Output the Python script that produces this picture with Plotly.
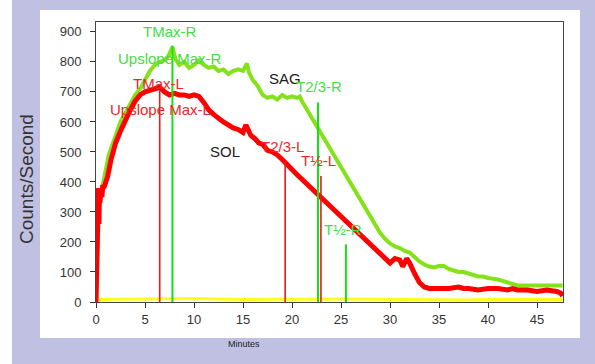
import plotly.graph_objects as go

# ---- data ----
right_t = [0, 0.1, 0.2, 0.3, 0.5, 0.7, 1.0, 1.3, 1.6, 2.0, 2.5, 3.0, 3.5, 4.0, 4.5, 5.0, 5.5,
           6.0, 6.5, 7.0, 7.4, 7.8, 8.1, 8.5, 9.0, 9.5, 10.0, 10.5, 11.0, 11.5, 12.0, 12.5,
           13.0, 13.5, 14.0, 14.5, 15.0, 15.4, 15.6, 16.0, 16.5, 17.0, 17.5, 18.0, 18.5,
           19.0, 19.5, 20.0, 20.5, 20.8, 21.0, 22.0, 23.0, 24.0, 25.0, 26.0, 27.0, 28.0,
           29.0, 29.5, 30.0, 30.5, 31.0, 31.5, 32.0, 32.5, 33.0, 33.5, 34.0, 34.5, 35.0,
           35.5, 36.0, 36.5, 37.0, 37.5, 38.0, 38.5, 39.0, 39.5, 40.0, 41.0, 42.0, 43.0,
           44.0, 45.0, 46.0, 47.0, 47.6]
right_v = [0, 150, 280, 330, 360, 400, 440, 490, 520, 560, 600, 630, 660, 690, 710, 740, 770,
           790, 800, 805, 820, 850, 810, 790, 800, 780, 790, 805, 790, 780, 785, 770,
           775, 760, 770, 775, 770, 795, 765, 740, 720, 690, 680, 685, 675,
           690, 680, 685, 680, 685, 670, 615, 560, 505, 450, 395, 340, 285,
           230, 210, 195, 185, 180, 170, 165, 150, 135, 125, 118, 115, 120,
           120, 110, 105, 100, 100, 95, 90, 85, 85, 80, 75, 65, 55,
           55, 55, 55, 55, 55]

left_t = [0, 0.05, 0.1, 0.15, 0.2, 0.25, 0.3, 0.35, 0.4, 0.5, 0.6, 0.7, 0.8, 1.0, 1.2, 1.5,
          1.8, 2.0, 2.5, 3.0, 3.5, 4.0, 4.5, 5.0, 5.5, 6.0, 6.5, 7.0, 7.5, 8.0, 8.5, 9.0,
          9.5, 10.0, 10.5, 11.0, 11.5, 12.0, 12.5, 13.0, 13.5, 14.0, 14.5, 15.0, 15.3,
          15.5, 15.8, 16.2, 16.6, 17.0, 17.5, 18.0, 18.5, 19.0, 19.5, 20.0, 20.5, 30.0,
          30.5, 31.0, 31.3, 31.7, 32.0, 32.5, 33.0, 33.5, 34.0, 35.0, 36.0, 37.0, 37.5,
          38.0, 39.0, 40.0, 41.0, 42.0, 42.5, 43.0, 44.0, 45.0, 46.0, 47.0, 47.4, 47.6]
left_v = [0, 100, 250, 350, 300, 380, 260, 360, 330, 370, 350, 390, 380, 400, 420, 470,
          510, 530, 570, 610, 640, 670, 690, 700, 705, 710, 715, 700, 690, 695, 690, 690,
          685, 690, 685, 665, 640, 625, 610, 600, 590, 580, 575, 565, 590,
          575, 555, 545, 530, 525, 505, 500, 490, 475, 460, 440, 425, 130,
          145, 140, 118, 145, 130, 95, 65, 50, 45, 45, 45, 50, 45,
          45, 40, 45, 45, 40, 45, 40, 40, 35, 40, 35, 30, 20]

bg_t = [0.3, 0.5, 2, 5, 8, 10, 12, 15, 18, 20, 22, 25, 28, 30, 33, 35, 38, 40, 43, 45, 47.6]
bg_v = [4, 8, 9, 10, 11, 12, 10, 8, 9, 10, 9, 10, 9, 8, 8, 8, 7, 8, 8, 8, 8]

# vertical marker lines: time, height, side
mark_t = [6.5, 7.8, 19.3, 22.65, 22.95, 25.5]
mark_h = [705, 855, 470, 665, 420, 192]
mark_side = ["L", "R", "L", "R", "L", "R"]

# labels: text, x, y, side
lab_text = ["TMax-R", "Upslope Max-R", "TMax-L", "Upslope Max-L", "SAG", "T2/3-R",
            "SOL", "T2/3-L", "T½-L", "T½-R"]
lab_x = [7.55, 7.5, 6.42, 6.58, 19.25, 22.8, 13.15, 19.0, 22.75, 25.2]
lab_y = [900, 813, 727, 640, 745, 717, 500, 517, 473, 243]
lab_side = ["R", "R", "L", "L", "K", "R", "K", "L", "L", "R"]

x_ticks = [0, 5, 10, 15, 20, 25, 30, 35, 40, 45]
y_ticks = [0, 100, 200, 300, 400, 500, 600, 700, 800, 900]

# ---- styles ----
CURVE_R = "#84e21a"
CURVE_L = "#ff0000"
LINE_R = "#16e016"
LINE_L = "#f01818"
TEXT_COL = {"R": "#3fe03f", "L": "#e8282a", "K": "#202020"}
LAV = "#bfc0e2"
FONT = "Liberation Sans, Arial, sans-serif"

fig = go.Figure()

fig.add_trace(go.Scatter(x=bg_t, y=bg_v, mode="lines",
                         line=dict(color="#ffff1a", width=3), hoverinfo="skip"))
fig.add_trace(go.Scatter(x=right_t, y=right_v, mode="lines",
                         line=dict(color=CURVE_R, width=4), hoverinfo="skip"))
fig.add_trace(go.Scatter(x=left_t, y=left_v, mode="lines",
                         line=dict(color=CURVE_L, width=5), hoverinfo="skip"))

for t, h, s in zip(mark_t, mark_h, mark_side):
    fig.add_trace(go.Scatter(x=[t, t], y=[0, h], mode="lines",
                             line=dict(color=LINE_R if s == "R" else LINE_L,
                                       width=2 if s == "R" else 1.6),
                             hoverinfo="skip"))

for txt, x, y, s in zip(lab_text, lab_x, lab_y, lab_side):
    fig.add_annotation(x=x, y=y, text=txt, showarrow=False, xanchor="center",
                       yanchor="middle", font=dict(family=FONT, size=15, color=TEXT_COL[s]))

# plot area: x 96..563, y 22..302 px
W, H = 595, 364
L, R, T, B = 96, 32, 22, 62
pw, ph = W - L - R, H - T - B

def px(x):
    return (x - L) / pw

def py(y):
    return (H - B - y) / ph

fig.add_shape(type="rect", xref="paper", yref="paper", x0=px(40), x1=px(580),
              y0=py(338), y1=py(10), fillcolor="white", line=dict(width=0), layer="below")
fig.add_shape(type="rect", xref="paper", yref="paper", x0=px(0), x1=px(12),
              y0=py(364), y1=py(0), fillcolor="white", line=dict(width=0), layer="below")

fig.add_annotation(xref="paper", yref="paper", x=px(26), y=py(179), text="Counts/Second",
                   textangle=-90, showarrow=False, xanchor="center", yanchor="middle",
                   font=dict(family=FONT, size=19, color="#333333"))
fig.add_annotation(xref="paper", yref="paper", x=px(244), y=py(344), text="Minutes",
                   showarrow=False, xanchor="center", yanchor="middle",
                   font=dict(family=FONT, size=9, color="#222222"))

fig.update_layout(
    width=W, height=H,
    margin=dict(l=L, r=R, t=T, b=B, pad=0),
    paper_bgcolor=LAV, plot_bgcolor="white",
    showlegend=False,
    font=dict(family=FONT, size=13, color="#333333"),
    xaxis=dict(range=[0, 47.65], tickvals=x_ticks, ticks="outside", ticklen=5,
               tickcolor="#333333", showgrid=False, zeroline=False, showline=True,
               linecolor="#444444", linewidth=1, mirror=True,
               tickfont=dict(family=FONT, size=13, color="#333333")),
    yaxis=dict(range=[0, 933], tickvals=y_ticks, ticks="outside", ticklen=5,
               tickcolor="#333333", showgrid=False, zeroline=False, showline=True,
               linecolor="#444444", linewidth=1, mirror=True,
               ticklabelstandoff=6,
               tickfont=dict(family=FONT, size=13, color="#333333")),
)

fig.write_html("out.html", config={"displayModeBar": False},
               post_script="document.body.style.margin='0';document.body.style.padding='0';")
